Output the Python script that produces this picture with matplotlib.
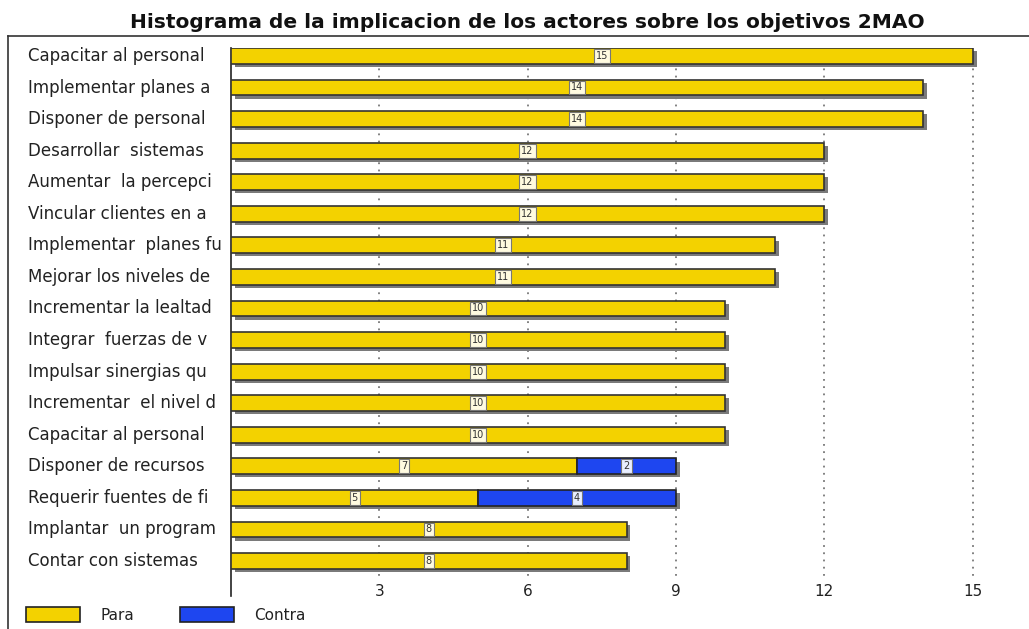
import matplotlib.pyplot as plt
from matplotlib.lines import Line2D
from matplotlib.patches import Rectangle

objetivos = ['Capacitar al personal', 'Implementar planes a', 'Disponer de personal',
             'Desarrollar  sistemas', 'Aumentar  la percepci', 'Vincular clientes en a',
             'Implementar  planes fu', 'Mejorar los niveles de', 'Incrementar la lealtad',
             'Integrar  fuerzas de v', 'Impulsar sinergias qu', 'Incrementar  el nivel d',
             'Capacitar al personal', 'Disponer de recursos', 'Requerir fuentes de fi',
             'Implantar  un program', 'Contar con sistemas']
para = [15, 14, 14, 12, 12, 12, 11, 11, 10, 10, 10, 10, 10, 7, 5, 8, 8]
contra = [0, 0, 0, 0, 0, 0, 0, 0, 0, 0, 0, 0, 0, 2, 4, 0, 0]
xticks = [3, 6, 9, 12, 15]

W, H = 1029, 629
plt.rcParams['font.family'] = ['DejaVu Sans']
fig = plt.figure(figsize=(W / 100, H / 100), dpi=100)

# axes box in pixels: left 231, right 1022, top 48, bottom 580
ax = fig.add_axes([231 / W, 1 - 580 / H, (1022 - 231) / W, (580 - 48) / H])
ax.set_xlim(0, 16)
ax.set_ylim(16.6, -0.25)

yellow = '#F3D200'
blue = '#1E46F0'
h = 0.5

for x in xticks:
    ax.plot([x, x], [-0.05, 16.6], linestyle=(0, (1, 3)), color='#777777', lw=1.3, zorder=1)

for i, (p, c) in enumerate(zip(para, contra)):
    total = p + c
    # shadow
    ax.barh(i + 0.1, total, left=0.08, height=h, color='#7a7a7a', edgecolor='none', zorder=2)
    ax.barh(i, p, height=h, color=yellow, edgecolor='#333333', lw=1.2, zorder=3)
    ax.text(p / 2, i, str(p), ha='center', va='center', fontsize=7, color='#333333', zorder=5,
            bbox=dict(boxstyle='square,pad=0.2', fc='#fffbe0', ec='#777777', lw=0.8))
    if c > 0:
        ax.barh(i, c, left=p, height=h, color=blue, edgecolor='#222222', lw=1.2, zorder=3)
        ax.text(p + c / 2, i, str(c), ha='center', va='center', fontsize=7, color='#333333', zorder=5,
                bbox=dict(boxstyle='square,pad=0.2', fc='#e8eeff', ec='#777777', lw=0.8))

for s in ['top', 'right', 'bottom', 'left']:
    ax.spines[s].set_visible(False)
ax.plot([0, 0], [1.0, -16 / 532], transform=ax.transAxes, color='#222222', lw=1.2, clip_on=False)

ax.set_xticks(xticks)
ax.set_xticklabels([str(x) for x in xticks], fontsize=11, color='#222222')
ax.tick_params(axis='x', length=0, pad=3)
ax.set_yticks([])

for i, name in enumerate(objetivos):
    ax.text(28 / W, 1 - (56 + i * 31.56) / H, name, transform=fig.transFigure,
            ha='left', va='center', fontsize=12, color='#222222')

fig.text(527 / W, 1 - 23 / H, 'Histograma de la implicacion de los actores sobre los objetivos 2MAO',
         ha='center', va='center', fontsize=14.5, fontweight='bold', color='#111111')

# outer frame
fig.add_artist(Line2D([8 / W, 1], [1 - 36 / H, 1 - 36 / H], color='#333333', lw=1.2))
fig.add_artist(Line2D([8 / W, 8 / W], [0, 1 - 36 / H], color='#333333', lw=1.2))

# legend
fig.add_artist(Rectangle((26 / W, 1 - 622 / H), 54 / W, 15 / H, transform=fig.transFigure,
                         fc=yellow, ec='#222222', lw=1.2))
fig.text(100 / W, 1 - 615 / H, 'Para', ha='left', va='center', fontsize=11, color='#222222')
fig.add_artist(Rectangle((180 / W, 1 - 622 / H), 54 / W, 15 / H, transform=fig.transFigure,
                         fc=blue, ec='#222222', lw=1.2))
fig.text(254 / W, 1 - 615 / H, 'Contra', ha='left', va='center', fontsize=11, color='#222222')

fig.savefig('out.png', dpi=100)
